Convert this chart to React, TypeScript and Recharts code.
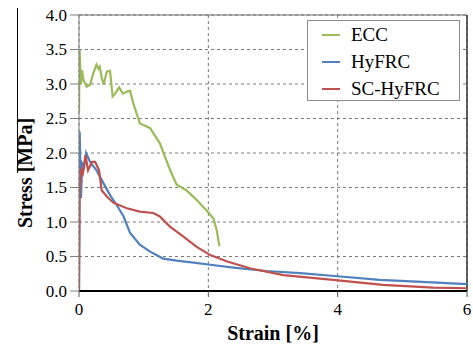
import { LineChart, Line, XAxis, YAxis, CartesianGrid, ReferenceLine, Label } from "recharts";

const SERIES_NAMES = ["ECC", "HyFRC", "SC-HyFRC"];
const COLORS = ["#9bbb59", "#4f81bd", "#c0504d"];

const X_TICKS = [0, 2, 4, 6];
const Y_TICKS = [0, 0.5, 1, 1.5, 2, 2.5, 3, 3.5, 4];

// ECC
const eccStrain = [0, 0.01, 0.03, 0.046, 0.067, 0.12, 0.17, 0.22, 0.27, 0.3, 0.32, 0.35, 0.38, 0.43, 0.48, 0.52, 0.56, 0.62, 0.68, 0.74, 0.79, 0.84, 0.94, 1.1, 1.25, 1.41, 1.51, 1.66, 1.82, 1.97, 2.08, 2.13, 2.17];
const eccStress = [2.6, 3.5, 3.0, 3.2, 3.06, 2.96, 2.99, 3.15, 3.28, 3.22, 3.25, 3.1, 2.99, 3.18, 3.19, 2.82, 2.86, 2.95, 2.86, 2.89, 2.9, 2.72, 2.43, 2.36, 2.14, 1.75, 1.54, 1.46, 1.32, 1.17, 1.05, 0.88, 0.65];

// HyFRC
const hyStrain = [0, 0.01, 0.03, 0.05, 0.08, 0.11, 0.17, 0.27, 0.38, 0.48, 0.58, 0.69, 0.79, 0.94, 1.1, 1.3, 1.51, 1.77, 2.03, 2.39, 2.9, 3.42, 4.04, 4.65, 5.38, 6.0];
const hyStress = [0, 2.31, 1.35, 1.85, 1.8, 2.0, 1.87, 1.75, 1.56, 1.39, 1.25, 1.08, 0.84, 0.67, 0.57, 0.47, 0.44, 0.41, 0.38, 0.34, 0.29, 0.26, 0.21, 0.16, 0.13, 0.1];

// SC-HyFRC
const scStrain = [0, 0.01, 0.03, 0.06, 0.1, 0.14, 0.2, 0.25, 0.31, 0.35, 0.43, 0.53, 0.74, 0.94, 1.15, 1.25, 1.41, 1.61, 1.82, 2.03, 2.28, 2.64, 3.16, 3.93, 4.7, 5.48, 6.0];
const scStress = [0, 1.44, 1.75, 1.7, 1.97, 1.75, 1.87, 1.87, 1.75, 1.46, 1.37, 1.28, 1.2, 1.15, 1.13, 1.08, 0.93, 0.79, 0.64, 0.52, 0.43, 0.33, 0.23, 0.16, 0.09, 0.05, 0.04];

const toPoints = (xs: number[], ys: number[]) => xs.map((x, i) => ({ x, y: ys[i] }));
const seriesData = [
  toPoints(eccStrain, eccStress),
  toPoints(hyStrain, hyStress),
  toPoints(scStrain, scStress),
];

const FONT = "'Liberation Serif', 'Times New Roman', serif";
const titleStyle = { fontFamily: FONT, fontSize: 20, fontWeight: "bold", fill: "#000" };
const tickTextStyle = { fontFamily: FONT, fontSize: 17, fill: "#000" };

const renderXTick = (p: any) => (
  <text key={`x${p.index}`} x={p.x} y={p.y} dy="0.7em" textAnchor="middle" style={tickTextStyle}>
    {p.payload.value}
  </text>
);

const renderYTick = (p: any) => (
  <text key={`y${p.index}`} x={p.x} y={p.y} dy="0.33em" textAnchor="end" style={tickTextStyle}>
    {Number(p.payload.value).toFixed(1)}
  </text>
);

export default function App() {
  return (
    <div style={{ position: "absolute", left: 0, top: 0, width: 473, height: 350, background: "#fff", fontFamily: FONT }}>
      <div style={{ position: "absolute", left: 17, top: 8, width: 1, height: 165, background: "#000" }} />
      <LineChart width={473} height={350} margin={{ top: 15, right: 6, left: 0, bottom: 0 }}>
        <CartesianGrid stroke="#7a7a7a" strokeDasharray="3 3" />
        <XAxis
          type="number"
          dataKey="x"
          domain={[0, 6]}
          ticks={X_TICKS}
          interval={0}
          allowDataOverflow
          height={59}
          tickSize={6}
          tickMargin={6}
          axisLine={{ stroke: "#000", strokeWidth: 2 }}
          tickLine={{ stroke: "#555" }}
          tick={renderXTick}
        >
          <Label value="Strain [%]" position="insideBottom" offset={10} style={titleStyle} />
        </XAxis>
        <YAxis
          type="number"
          dataKey="y"
          domain={[0, 4]}
          ticks={Y_TICKS}
          interval={0}
          allowDataOverflow
          width={79}
          tickSize={9}
          tickMargin={3}
          axisLine={{ stroke: "#7f7f7f" }}
          tickLine={{ stroke: "#7f7f7f" }}
          tick={renderYTick}
        >
          <Label
            content={() => (
              <text x={25} y={173} transform="rotate(-90 25 173)" textAnchor="middle" dominantBaseline="central" style={titleStyle}>
                Stress [MPa]
              </text>
            )}
          />
        </YAxis>
        <ReferenceLine y={4} stroke="#6e6e6e" strokeWidth={1} />
        <ReferenceLine x={6} stroke="#333" strokeWidth={1.5} />
        {seriesData.map((d, i) => (
          <Line
            key={SERIES_NAMES[i]}
            data={d}
            dataKey="y"
            name={SERIES_NAMES[i]}
            type="linear"
            stroke={COLORS[i]}
            strokeWidth={2.2}
            dot={false}
            isAnimationActive={false}
          />
        ))}
      </LineChart>
      <div style={{ position: "absolute", left: 307, top: 20, width: 151, height: 79, border: "1px solid #8c8c8c", background: "#fff", fontSize: 19, color: "#000" }}>
        {SERIES_NAMES.map((n, i) => (
          <div key={n} style={{ display: "flex", alignItems: "center", height: 27 }}>
            <span style={{ display: "inline-block", width: 18, height: 2, background: COLORS[i], marginLeft: 14, marginRight: 11 }} />
            <span style={{ lineHeight: "27px" }}>{n}</span>
          </div>
        ))}
      </div>
    </div>
  );
}
